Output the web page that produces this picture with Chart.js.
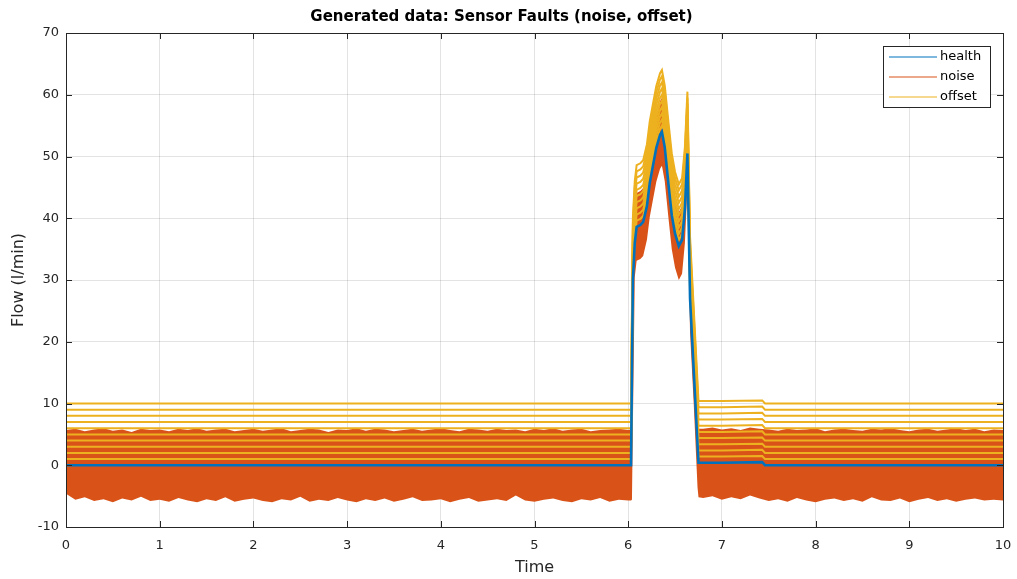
<!DOCTYPE html>
<html lang="en">
<head>
<meta charset="UTF-8">
<title>Sensor Faults</title>
<style>
  body { margin: 0; background: #fff; }
  #wrap { width: 1017px; height: 579px; }
</style>
</head>
<body>
<div id="wrap"><canvas id="myChart" width="1017" height="579"></canvas></div>

<script src="https://cdn.jsdelivr.net/npm/chart.js@4.4.1/dist/chart.umd.min.js"></script>
<script>
// healthy flow signal
const healthT = [0, 6.03, 6.05, 6.07, 6.09, 6.13, 6.16, 6.20, 6.23, 6.27, 6.30, 6.34, 6.36, 6.39, 6.43, 6.465, 6.50, 6.54, 6.575, 6.605, 6.632, 6.66, 6.75, 7.0, 7.43, 7.46, 10];
const healthY = [0, 0, 30, 36, 38.6, 38.9, 39.4, 42, 45.7, 49, 51.4, 53.5, 54, 51.5, 45.5, 40.5, 37.5, 35.5, 36.5, 41.5, 50.5, 27, 0.4, 0.4, 0.5, 0, 0];

// offset fault levels added to the healthy signal
const offsetLevels = [1, 2, 3, 4, 5, 6, 7, 8, 9, 10];

// noise fault: upper and lower edge of the noisy band
const noiseT = [
  0.0, 0.1, 0.2, 0.3, 0.4, 0.5, 0.6, 0.7, 0.8, 0.9,
  1.0, 1.1, 1.2, 1.3, 1.4, 1.5, 1.6, 1.7, 1.8, 1.9,
  2.0, 2.1, 2.2, 2.3, 2.4, 2.5, 2.6, 2.7, 2.8, 2.9,
  3.0, 3.1, 3.2, 3.3, 3.4, 3.5, 3.6, 3.7, 3.8, 3.9,
  4.0, 4.1, 4.2, 4.3, 4.4, 4.5, 4.6, 4.7, 4.8, 4.9,
  5.0, 5.1, 5.2, 5.3, 5.4, 5.5, 5.6, 5.7, 5.8, 5.9,
  6.0, 6.03, 6.04, 6.07, 6.09, 6.13, 6.16, 6.20, 6.23, 6.27,
  6.30, 6.34, 6.36, 6.39, 6.43, 6.465, 6.50, 6.54, 6.575, 6.605,
  6.632, 6.66, 6.70, 6.74, 6.75, 6.8, 6.9, 7.0, 7.1, 7.2,
  7.3, 7.4, 7.5, 7.6, 7.7, 7.8, 7.9, 8.0, 8.1, 8.2,
  8.3, 8.4, 8.5, 8.6, 8.7, 8.8, 8.9, 9.0, 9.1, 9.2,
  9.3, 9.4, 9.5, 9.6, 9.7, 9.8, 9.9, 10.0
];
const noiseHi = [
  5.7, 5.9, 5.5, 5.8, 6.0, 5.6, 5.8, 5.4, 5.9, 5.7,
  5.8, 5.5, 5.9, 5.7, 6.0, 5.6, 5.8, 5.9, 5.5, 5.7,
  5.9, 5.6, 5.8, 6.0, 5.5, 5.7, 5.9, 5.8, 5.4, 5.8,
  5.7, 6.0, 5.6, 5.9, 5.8, 5.5, 5.7, 5.9, 5.6, 5.8,
  6.0, 5.7, 5.5, 5.9, 5.8, 5.6, 5.9, 5.7, 5.8, 5.5,
  5.9, 5.7, 6.0, 5.6, 5.8, 5.9, 5.5, 5.7, 5.8, 5.9,
  5.7, 5.8, 20, 41.5, 44.1, 44.4, 44.9, 47.5, 51.2, 54.5,
  56.9, 59, 59.5, 57, 51, 46, 43, 41, 42, 47,
  56, 32.5, 20.7, 7.4, 5.9, 5.9, 6.1, 5.8, 6.0, 5.7,
  6.1, 5.9, 5.8, 5.6, 5.9, 5.7, 5.8, 6.0, 5.5, 5.8,
  5.9, 5.7, 5.6, 5.9, 5.8, 6.0, 5.7, 5.5, 5.8, 5.9,
  5.6, 5.8, 6.0, 5.7, 5.9, 5.5, 5.8, 5.7
];
const noiseLo = [
  -4.6, -5.6, -5.2, -5.8, -5.5, -6.0, -5.4, -5.7, -5.1, -5.8,
  -5.6, -5.9, -5.3, -5.7, -6.0, -5.5, -5.8, -5.2, -5.9, -5.6,
  -5.4, -5.8, -6.0, -5.5, -5.7, -5.1, -5.9, -5.6, -5.8, -5.3,
  -5.7, -6.0, -5.5, -5.8, -5.4, -5.9, -5.6, -5.2, -5.8, -5.7,
  -5.5, -6.0, -5.6, -5.3, -5.9, -5.7, -5.5, -5.8, -4.9, -5.7,
  -5.9, -5.6, -5.4, -5.8, -6.0, -5.5, -5.7, -5.3, -5.9, -5.6,
  -5.7, -5.7, -5.6, 30.5, 33.1, 33.4, 33.9, 36.5, 40.2, 43.5,
  45.9, 48, 48.5, 46, 40, 35, 32, 30, 31, 36,
  45, 21.5, 9.7, -3.6, -5.2, -5.3, -5.0, -5.6, -5.2, -5.5,
  -4.9, -5.4, -5.8, -5.5, -5.9, -5.3, -5.7, -6.0, -5.6, -5.4,
  -5.8, -5.5, -5.9, -5.2, -5.7, -5.8, -5.4, -6.0, -5.6, -5.3,
  -5.8, -5.5, -5.9, -5.6, -5.4, -5.7, -5.6, -5.7
];

const blue = '#0072BD';
const orange = '#D95319';
const yellow = '#EDB120';
const axisColor = '#262626';

Chart.defaults.font.family = "'DejaVu Sans', sans-serif";
Chart.defaults.color = axisColor;

const toPts = (xs, ys) => xs.map((x, i) => ({ x: x, y: ys[i] }));

const datasets = [];
datasets.push({
  label: 'health', legendEntry: true,
  data: toPts(healthT, healthY),
  borderColor: blue, borderWidth: 2.6, order: 0
});
offsetLevels.forEach((k, i) => {
  datasets.push({
    label: 'offset', legendEntry: i === 0,
    data: toPts(healthT, healthY.map(v => v + k)),
    borderColor: yellow, borderWidth: 2, order: 1
  });
});
const loIndex = datasets.length;
datasets.push({
  label: 'noise-lo',
  data: toPts(noiseT, noiseLo),
  borderWidth: 0, borderColor: 'rgba(0,0,0,0)', fill: false, order: 3
});
datasets.push({
  label: 'noise', legendEntry: true,
  data: toPts(noiseT, noiseHi),
  borderWidth: 0, borderColor: orange, backgroundColor: orange,
  fill: { target: loIndex }, order: 2
});

// MATLAB style axes box + inward ticks
const boxPlugin = {
  id: 'box',
  afterDraw(chart) {
    const { ctx, chartArea: a, scales } = chart;
    ctx.save();
    ctx.strokeStyle = axisColor;
    ctx.lineWidth = 1;
    ctx.beginPath();
    scales.x.ticks.forEach(t => {
      const px = Math.round(scales.x.getPixelForValue(t.value)) + 0.5;
      ctx.moveTo(px, a.bottom); ctx.lineTo(px, a.bottom - 6);
      ctx.moveTo(px, a.top); ctx.lineTo(px, a.top + 6);
    });
    scales.y.ticks.forEach(t => {
      const py = Math.round(scales.y.getPixelForValue(t.value)) + 0.5;
      ctx.moveTo(a.left, py); ctx.lineTo(a.left + 6, py);
      ctx.moveTo(a.right, py); ctx.lineTo(a.right - 6, py);
    });
    ctx.stroke();
    ctx.strokeRect(Math.round(a.left) + 0.5, Math.round(a.top) + 0.5,
      Math.round(a.right - a.left), Math.round(a.bottom - a.top));
    ctx.restore();
  }
};

// legend box inside the plot, top right
const legendPlugin = {
  id: 'innerLegend',
  afterDraw(chart) {
    const { ctx, chartArea: a } = chart;
    const items = chart.data.datasets.filter(d => d.legendEntry);
    const order = ['health', 'noise', 'offset'];
    items.sort((p, q) => order.indexOf(p.label) - order.indexOf(q.label));
    const w = 107, h = 61;
    const x = a.right - 13 - w, y = a.top + 13;
    ctx.save();
    ctx.fillStyle = '#fff';
    ctx.fillRect(x, y, w, h);
    ctx.strokeStyle = axisColor;
    ctx.lineWidth = 1;
    ctx.strokeRect(Math.round(x) + 0.5, Math.round(y) + 0.5, w, h);
    ctx.font = "13px 'DejaVu Sans'";
    ctx.textBaseline = 'middle';
    items.forEach((d, i) => {
      const ry = y + 11 + i * 20;
      ctx.strokeStyle = d.borderColor;
      ctx.lineWidth = 1.2;
      ctx.beginPath();
      ctx.moveTo(x + 6, ry); ctx.lineTo(x + 54, ry);
      ctx.stroke();
      ctx.fillStyle = '#000';
      ctx.fillText(d.label, x + 57, ry);
    });
    ctx.restore();
  }
};

const config = {
  type: 'line',
  data: { datasets: datasets },
  options: {
    responsive: false,
    animation: false,
    events: [],
    layout: { padding: { left: 0, right: 14, top: 0, bottom: 0 } },
    elements: {
      point: { radius: 0 },
      line: { tension: 0, borderCapStyle: 'butt' }
    },
    plugins: {
      legend: { display: false },
      tooltip: { enabled: false },
      title: {
        display: true,
        text: 'Generated data: Sensor Faults (noise, offset)',
        color: '#000',
        font: { size: 15, weight: 'bold' },
        padding: { top: 8, bottom: 7 }
      }
    },
    scales: {
      x: {
        type: 'linear', min: 0, max: 10,
        ticks: { stepSize: 1, padding: 11, font: { size: 13 }, color: axisColor, maxRotation: 0 },
        grid: { color: 'rgba(38,38,38,0.13)', drawTicks: false },
        border: { color: axisColor },
        title: { display: true, text: 'Time', font: { size: 16 }, color: axisColor, padding: { top: 0, bottom: 2 } },
        afterFit(scale) {
          scale.height = 52;
          scale.paddingLeft = 0;
          scale.paddingRight = 0;
        }
      },
      y: {
        type: 'linear', min: -10, max: 70,
        ticks: { stepSize: 10, padding: 7, font: { size: 13 }, color: axisColor },
        grid: { color: 'rgba(38,38,38,0.13)', drawTicks: false },
        border: { color: axisColor },
        title: { display: true, text: 'Flow (l/min)', font: { size: 16 }, color: axisColor, padding: { top: 9, bottom: 0 } },
        afterFit(scale) {
          scale.width = 66;
          scale.paddingTop = 0;
          scale.paddingBottom = 0;
        }
      }
    }
  },
  plugins: [boxPlugin, legendPlugin]
};

const myChart = new Chart(document.getElementById('myChart'), config);
</script>
</body>
</html>
